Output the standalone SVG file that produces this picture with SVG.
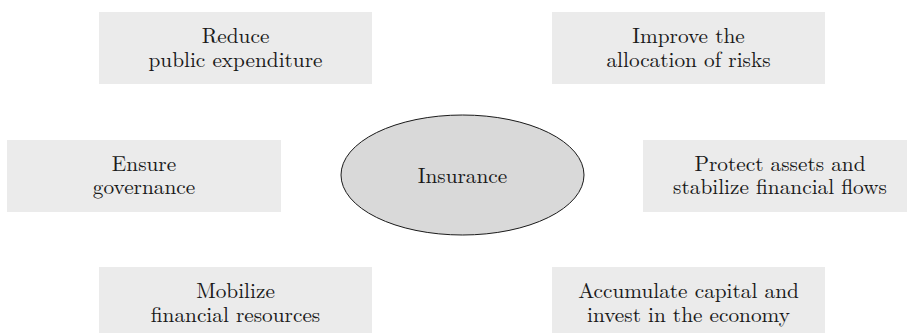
<svg xmlns="http://www.w3.org/2000/svg" width="907" height="333" viewBox="0 0 907 333">
  <style>
    .box { fill: #ebebeb; stroke: none; }
    .hub { fill: #d9d9d9; stroke: #1a1a1a; stroke-width: 1; }
    .lbl { font-size: 21.3px; fill: #1a1a1a; text-anchor: middle; }
  </style>
  <rect width="907" height="333" fill="#ffffff"/>
  <g id="connectors"/>
  <g id="nodes" font-family="Latin Modern Roman, Liberation Serif, serif">
    <g id="hub">
      <ellipse class="hub" cx="462.5" cy="175" rx="121.5" ry="60"/>
      <text class="lbl" x="462.5" y="183">Insurance</text>
    </g>
    <g id="reduce-expenditure">
      <rect class="box" x="99" y="12" width="273" height="72"/>
      <text class="lbl" x="235.5" y="43">Reduce</text>
      <text class="lbl" x="235.5" y="67">public expenditure</text>
    </g>
    <g id="improve-risks">
      <rect class="box" x="552" y="12" width="273" height="72"/>
      <text class="lbl" x="688.5" y="43">Improve the</text>
      <text class="lbl" x="688.5" y="67">allocation of risks</text>
    </g>
    <g id="ensure-governance">
      <rect class="box" x="7" y="140" width="274" height="72"/>
      <text class="lbl" x="144" y="171">Ensure</text>
      <text class="lbl" x="144" y="194">governance</text>
    </g>
    <g id="protect-assets">
      <rect class="box" x="643" y="140" width="274" height="72"/>
      <text class="lbl" x="780" y="171">Protect assets and</text>
      <text class="lbl" x="780" y="194">stabilize financial flows</text>
    </g>
    <g id="mobilize-resources">
      <rect class="box" x="99" y="267" width="273" height="66"/>
      <text class="lbl" x="235.5" y="298">Mobilize</text>
      <text class="lbl" x="235.5" y="322">financial resources</text>
    </g>
    <g id="accumulate-capital">
      <rect class="box" x="552" y="267" width="273" height="66"/>
      <text class="lbl" x="688.5" y="298">Accumulate capital and</text>
      <text class="lbl" x="688.5" y="322">invest in the economy</text>
    </g>
  </g>
</svg>
